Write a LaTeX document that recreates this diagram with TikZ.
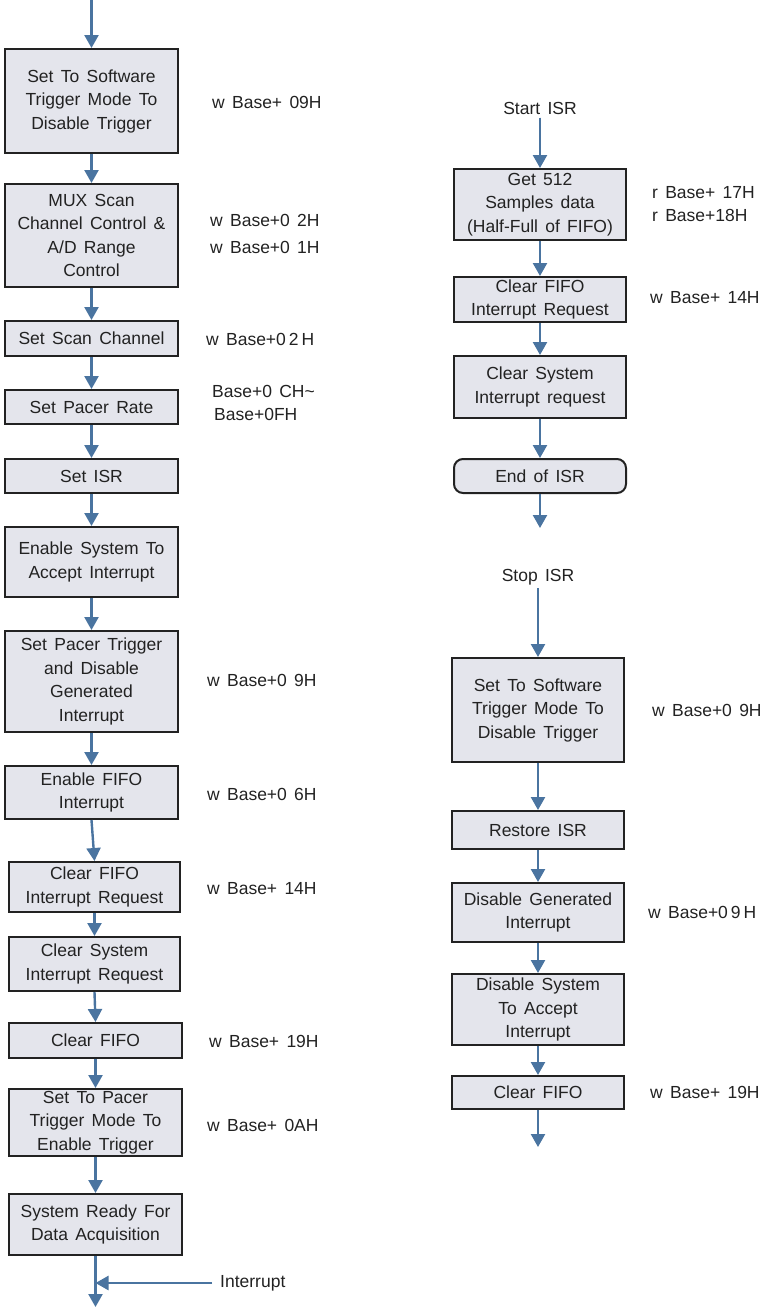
\documentclass[tikz,border=0pt]{standalone}
\usepackage{fontspec}
\setmainfont{Liberation Sans}[WordSpace=1.5]
\usetikzlibrary{arrows.meta}
\definecolor{boxfill}{HTML}{E4E5EC}
\definecolor{boxline}{HTML}{222222}
\definecolor{flowblue}{HTML}{4A74A0}
\definecolor{txt}{HTML}{222222}

\begin{document}
\begin{tikzpicture}[x=1pt,y=-1pt,>={Triangle[width=14pt,length=13pt]},
    every node/.style={font=\fontsize{17.5}{23.5}\selectfont,text=txt},
    proc/.style={draw=boxline,fill=boxfill,line width=2pt,align=center,inner sep=0pt,minimum width=173pt},
    term/.style={proc,rounded corners=9pt},
    note/.style={anchor=west,inner sep=0pt},
    flow/.style={draw=flowblue,fill=flowblue,line width=2.4pt,->}]
  \useasboundingbox (0,0) rectangle (764,1307);
  % main routine
  \coordinate (entry) at (91.5,0);
  \node[proc,minimum height=104pt] (swtrig) at (91.5,101) {Set To Software\\Trigger Mode To\\Disable Trigger};
  \node[proc,minimum height=103pt] (mux) at (91.5,235.5) {MUX Scan\\Channel Control \&\\A/D Range\\Control};
  \node[proc,minimum height=35pt] (scan) at (91.5,338.5) {Set Scan Channel};
  \node[proc,minimum height=34pt] (pacer) at (91.5,407) {Set Pacer Rate};
  \node[proc,minimum height=34pt] (isr) at (91.5,476) {Set ISR};
  \node[proc,minimum height=70pt] (accept) at (91.5,562) {Enable System To\\Accept Interrupt};
  \node[proc,minimum height=101pt] (ptrig) at (91.5,681.5) {Set Pacer Trigger\\and Disable\\Generated\\Interrupt};
  \node[proc,minimum height=53pt] (fifoint) at (91.5,792.5) {Enable FIFO\\Interrupt};
  \node[proc,minimum height=50pt,minimum width=171pt] (clrreq) at (94.5,887) {Clear FIFO\\Interrupt Request};
  \node[proc,minimum height=54pt,minimum width=171pt] (clrsys) at (94.5,964) {Clear System\\Interrupt Request};
  \node[proc,minimum height=35pt] (clrfifo) at (95.5,1040.5) {Clear FIFO};
  \node[proc,minimum height=67pt] (entrig) at (95.5,1122.5) {Set To Pacer\\Trigger Mode To\\Enable Trigger};
  \node[proc,minimum height=61pt] (ready) at (95.5,1224.5) {System Ready For\\Data Acquisition};
  \coordinate (exit) at (95.5,1307);
  \node[note] (intr) at (220,1283) {Interrupt};
  \coordinate (intrin) at (212,1283);

  % register notes
  \node[note] (n1) at (212,102) {w Base+ 09H};
  \node[note] (n2) at (210,220) {w Base+0 2H};
  \node[note] (n3) at (210,247) {w Base+0 1H};
  \node[note] (n4) at (206,339) {w Base+0\thinspace 2\thinspace H};
  \node[note] (n5) at (212,391) {Base+0 CH\textasciitilde};
  \node[note] (n6) at (214,414) {Base+0FH};
  \node[note] (n7) at (207,680) {w Base+0 9H};
  \node[note] (n8) at (207,794) {w Base+0 6H};
  \node[note] (n9) at (207,889) {w Base+ 14H};
  \node[note] (n10) at (209,1041) {w Base+ 19H};
  \node[note] (n11) at (207,1125) {w Base+ 0AH};

  % interrupt service routine
  \node (start) at (540,108) {Start ISR};
  \node[proc,minimum height=71pt,minimum width=172pt] (get) at (540,204.5) {Get 512\\Samples data\\(Half-Full of FIFO)};
  \node[proc,minimum height=45pt,minimum width=172pt] (isrreq) at (540,299.5) {Clear FIFO\\Interrupt Request};
  \node[proc,minimum height=62pt,minimum width=172pt] (isrsys) at (540,387) {Clear System\\Interrupt request};
  \node[term,minimum height=34pt,minimum width=172pt] (endisr) at (540,476) {End of ISR};
  \coordinate (isrout) at (540,528);
  \node[note] (r1) at (652,193) {r Base+ 17H};
  \node[note] (r2) at (652,215) {r Base+18H};
  \node[note] (r3) at (650,298) {w Base+ 14H};

  % stop routine
  \node (stop) at (538,577) {Stop ISR};
  \node[proc,minimum height=104pt,minimum width=172pt] (stswtrig) at (538,710) {Set To Software\\Trigger Mode To\\Disable Trigger};
  \node[proc,minimum height=38pt,minimum width=172pt] (restore) at (538,830) {Restore ISR};
  \node[proc,minimum height=59pt,minimum width=172pt] (disgen) at (538,912.5) {Disable Generated\\Interrupt};
  \node[proc,minimum height=71pt,minimum width=172pt] (dissys) at (538,1009.5) {Disable System\\To Accept\\Interrupt};
  \node[proc,minimum height=33pt,minimum width=172pt] (stclr) at (538,1092.5) {Clear FIFO};
  \coordinate (stopout) at (538,1147);
  \node[note] (s1) at (652,710) {w Base+0 9H};
  \node[note] (s2) at (648,912) {w Base+0\thinspace 9\thinspace H};
  \node[note] (s3) at (650,1092) {w Base+ 19H};

  \path[every edge/.style={flow}]
              (entry) edge (swtrig)
              (swtrig) edge (mux)
              (mux) edge (scan)
              (scan) edge (pacer)
              (pacer) edge (isr)
              (isr) edge (accept)
              (accept) edge (ptrig)
              (ptrig) edge (fifoint)
              (fifoint.south) edge (clrreq.north)
              (clrreq) edge (clrsys)
              (clrsys.south) edge (clrfifo.north)
              (clrfifo) edge (entrig)
              (entrig) edge (ready)
              (ready) edge (exit);
  \draw[flow] (intrin) -- (intrin -| ready.south);
  \path[every edge/.style={flow}]
              (start) edge (get)
              (get) edge (isrreq)
              (isrreq) edge (isrsys)
              (isrsys) edge (endisr)
              (endisr) edge (isrout);
  \path[every edge/.style={flow}]
              (stop) edge (stswtrig)
              (stswtrig) edge (restore)
              (restore) edge (disgen)
              (disgen) edge (dissys)
              (dissys) edge (stclr)
              (stclr) edge (stopout);
\end{tikzpicture}
\end{document}
